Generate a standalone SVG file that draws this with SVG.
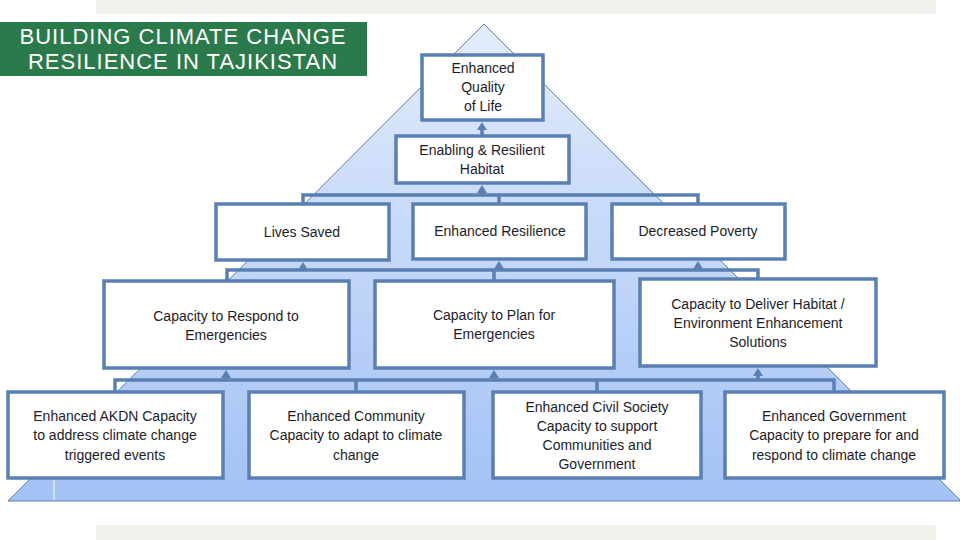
<svg xmlns="http://www.w3.org/2000/svg" width="960" height="540" viewBox="0 0 960 540">
<defs>
<linearGradient id="pyr" x1="0" y1="0" x2="0" y2="1">
<stop offset="0" stop-color="#e2ecfc"/>
<stop offset="1" stop-color="#a3c1f4"/>
</linearGradient>
<path id="ah" d="M-5,8 L0,0 L5,8 Z" fill="#5a7fb3"/>
<style>
.box{fill:#ffffff;stroke:#5a7fb3;stroke-width:3.5}
.t{font-family:"Liberation Sans",Arial,sans-serif;font-size:14px;fill:#1c1c2c;text-anchor:middle}
.c{fill:none;stroke:#5a7fb3;stroke-width:3.5}
.title{font-family:"Liberation Sans",Arial,sans-serif;font-size:22px;letter-spacing:1px;fill:#ffffff;text-anchor:middle}
</style>
</defs>
<rect x="0" y="0" width="960" height="540" fill="#ffffff"/>
<rect x="96" y="0" width="840" height="14" fill="#f2f1ec"/>
<rect x="96" y="525" width="840" height="15" fill="#f2f1ec"/>
<g id="title">
<rect x="0" y="22" width="367" height="54" fill="#2b7a4b"/>
<text class="title" x="183" y="44">BUILDING CLIMATE CHANGE</text>
<text class="title" x="183" y="69">RESILIENCE IN TAJIKISTAN</text>
</g>
<g id="pyramid">
<polygon points="484,24 961,501 8,501" fill="url(#pyr)" stroke="#5a7fb3" stroke-width="1"/>
<line x1="54" y1="480" x2="54" y2="500" stroke="#ffffff" stroke-width="1"/>
</g>
<g id="connectors">
<path class="c" d="M482,136 V126"/>
<use href="#ah" x="482" y="122"/>
<path class="c" d="M303,204 V195 H698 V204 M499,195 V204 M482,195 V189"/>
<use href="#ah" x="482" y="185"/>
<path class="c" d="M227,281 V270 H758 V279 M494,270 V281 M303,270 V266 M499,270 V266 M698,270 V266"/>
<use href="#ah" x="303" y="262"/>
<use href="#ah" x="499" y="261"/>
<use href="#ah" x="698" y="261"/>
<path class="c" d="M115,392 V380 H834 V392 M356,380 V392 M597,380 V392 M226,380 V374 M494,380 V374 M758,380 V372"/>
<use href="#ah" x="226" y="370"/>
<use href="#ah" x="494" y="370"/>
<use href="#ah" x="758" y="368"/>
</g>
<g id="n-quality">
<rect class="box" x="422" y="55" width="121" height="65"/>
<text class="t" x="483" y="73">Enhanced</text>
<text class="t" x="483" y="92">Quality</text>
<text class="t" x="483" y="111">of Life</text>
</g>
<g id="n-habitat">
<rect class="box" x="396" y="136" width="173" height="47"/>
<text class="t" x="482" y="155">Enabling &amp; Resilient</text>
<text class="t" x="482" y="174">Habitat</text>
</g>
<g id="n-lives">
<rect class="box" x="216" y="204" width="173" height="56"/>
<text class="t" x="302" y="237">Lives Saved</text>
</g>
<g id="n-resilience">
<rect class="box" x="413" y="204" width="173" height="55"/>
<text class="t" x="500" y="236">Enhanced Resilience</text>
</g>
<g id="n-poverty">
<rect class="box" x="612" y="204" width="173" height="55"/>
<text class="t" x="698" y="236">Decreased Poverty</text>
</g>
<g id="n-respond">
<rect class="box" x="104" y="281" width="245" height="87"/>
<text class="t" x="226" y="321">Capacity to Respond to</text>
<text class="t" x="226" y="340">Emergencies</text>
</g>
<g id="n-plan">
<rect class="box" x="375" y="281" width="239" height="87"/>
<text class="t" x="494" y="320">Capacity to Plan for</text>
<text class="t" x="494" y="339">Emergencies</text>
</g>
<g id="n-deliver">
<rect class="box" x="640" y="279" width="236" height="87"/>
<text class="t" x="758" y="309">Capacity to Deliver Habitat /</text>
<text class="t" x="758" y="328">Environment Enhancement</text>
<text class="t" x="758" y="347">Solutions</text>
</g>
<g id="n-akdn">
<rect class="box" x="8" y="392" width="215" height="86"/>
<text class="t" x="115" y="421">Enhanced AKDN Capacity</text>
<text class="t" x="115" y="440">to address climate change</text>
<text class="t" x="115" y="460">triggered events</text>
</g>
<g id="n-community">
<rect class="box" x="249" y="392" width="215" height="86"/>
<text class="t" x="356" y="421">Enhanced Community</text>
<text class="t" x="356" y="440">Capacity to adapt to climate</text>
<text class="t" x="356" y="460">change</text>
</g>
<g id="n-civil">
<rect class="box" x="493" y="392" width="208" height="86"/>
<text class="t" x="597" y="412">Enhanced Civil Society</text>
<text class="t" x="597" y="431">Capacity to support</text>
<text class="t" x="597" y="450">Communities and</text>
<text class="t" x="597" y="469">Government</text>
</g>
<g id="n-government">
<rect class="box" x="725" y="392" width="219" height="86"/>
<text class="t" x="834" y="421">Enhanced Government</text>
<text class="t" x="834" y="440">Capacity to prepare for and</text>
<text class="t" x="834" y="460">respond to climate change</text>
</g>
</svg>
